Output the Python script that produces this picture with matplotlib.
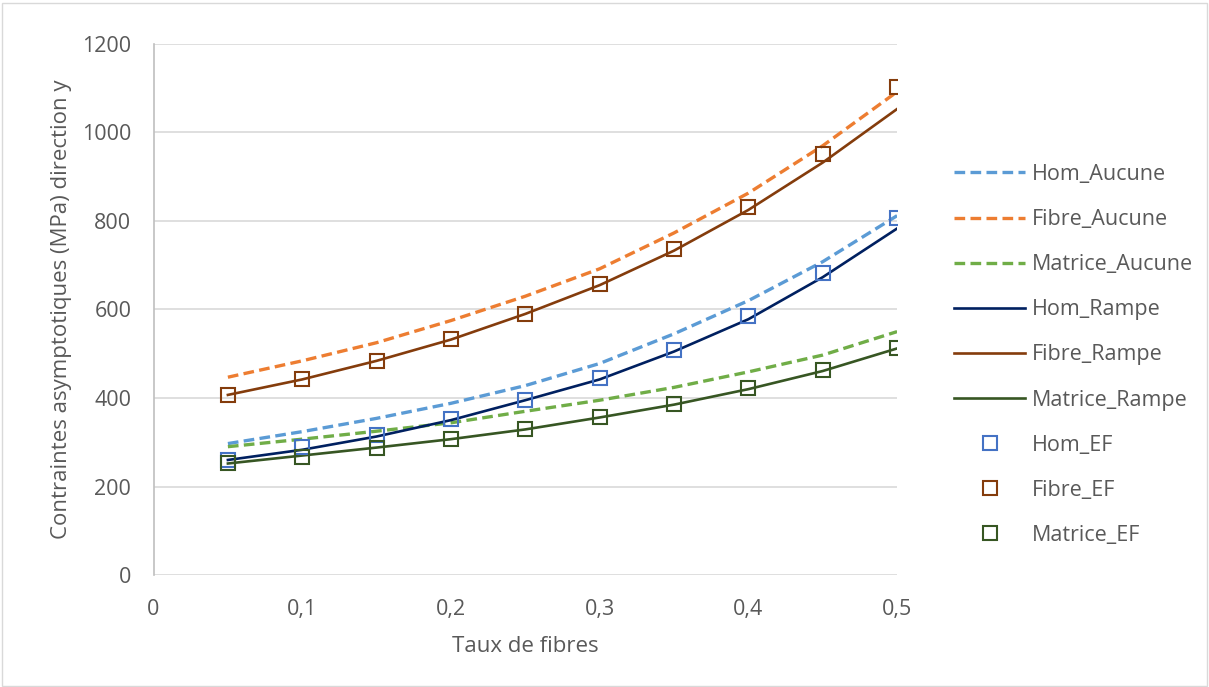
import matplotlib
matplotlib.use("Agg")
import matplotlib.pyplot as plt
from matplotlib.patches import Rectangle

plt.rcParams['font.family'] = ['Open Sans', 'DejaVu Sans']

# taux de fibres
taux = [0.05, 0.1, 0.15, 0.2, 0.25, 0.3, 0.35, 0.4, 0.45, 0.5]

# modele sans rampe
hom_aucune = [297, 324, 354, 388, 428, 478, 545, 620, 708, 812]
fibre_aucune = [447, 484, 525, 575, 630, 692, 773, 863, 970, 1092]
matrice_aucune = [290, 307, 325, 344, 370, 395, 424, 459, 497, 550]

# modele avec rampe
hom_rampe = [260, 283, 313, 350, 395, 442, 505, 578, 673, 783]
fibre_rampe = [407, 442, 484, 532, 590, 655, 733, 825, 932, 1053]
matrice_rampe = [252, 270, 288, 307, 329, 356, 385, 420, 461, 512]

# elements finis
hom_ef = [260, 289, 316, 352, 395, 446, 508, 585, 683, 807]
fibre_ef = [407, 442, 484, 533, 590, 658, 737, 832, 951, 1102]
matrice_ef = [253, 266, 286, 307, 329, 356, 386, 422, 463, 512]

fig = plt.figure(figsize=(12.09, 6.87), dpi=100)
ax = fig.add_axes([0.127, 0.163, 0.615, 0.773])

# cadre du graphique
fig.patches.append(Rectangle((0.002, 0.002), 0.996, 0.994, transform=fig.transFigure,
                             fill=False, edgecolor="#D9D9D9", linewidth=1))

dash = (0, (3.2, 1.6))
ax.plot(taux, hom_aucune, color="#5B9BD5", lw=2.4, ls=dash, label="Hom_Aucune")
ax.plot(taux, fibre_aucune, color="#ED7D31", lw=2.4, ls=dash, label="Fibre_Aucune")
ax.plot(taux, matrice_aucune, color="#70AD47", lw=2.4, ls=dash, label="Matrice_Aucune")
ax.plot(taux, hom_rampe, color="#002060", lw=1.9, label="Hom_Rampe")
ax.plot(taux, fibre_rampe, color="#843C0C", lw=1.9, label="Fibre_Rampe")
ax.plot(taux, matrice_rampe, color="#375623", lw=1.9, label="Matrice_Rampe")
ax.plot(taux, hom_ef, ls="none", marker="s", ms=9.5, mfc="none", mec="#4472C4", mew=1.5, label="Hom_EF")
ax.plot(taux, fibre_ef, ls="none", marker="s", ms=9.5, mfc="none", mec="#843C0C", mew=1.5, label="Fibre_EF")
ax.plot(taux, matrice_ef, ls="none", marker="s", ms=9.5, mfc="none", mec="#375623", mew=1.5, label="Matrice_EF")

ax.set_xlim(0, 0.5)
ax.set_ylim(0, 1200)
ax.set_xticks([0, 0.1, 0.2, 0.3, 0.4, 0.5])
ax.set_xticklabels(["0", "0,1", "0,2", "0,3", "0,4", "0,5"])
ax.set_yticks(range(0, 1201, 200))
ax.tick_params(length=0, labelsize=15.5, labelcolor="#595959")
ax.tick_params(axis="y", pad=16)
ax.tick_params(axis="x", pad=17)
ax.grid(axis="y", color="#D9D9D9", lw=1.2)
ax.set_axisbelow(True)
for s in ["top", "right", "bottom"]:
    ax.spines[s].set_visible(False)
ax.spines["left"].set_color("#BFBFBF")
ax.spines["left"].set_linewidth(1.2)

ax.set_xlabel("Taux de fibres", fontsize=16, color="#595959")
ax.set_ylabel("Contraintes asymptotiques (MPa) direction y", fontsize=16, color="#595959")
ax.xaxis.set_label_coords(0.5, -0.115)
ax.yaxis.set_label_coords(-0.11, 0.5)

leg = fig.legend(loc="upper left", bbox_to_anchor=(954 / 1209, 1 - 164 / 687), frameon=False,
                 borderpad=0, borderaxespad=0, fontsize=15.5, labelspacing=1.12,
                 handlelength=3.3, handletextpad=0.33)
for t in leg.get_texts():
    t.set_color("#595959")

fig.savefig("out.png", dpi=100)
